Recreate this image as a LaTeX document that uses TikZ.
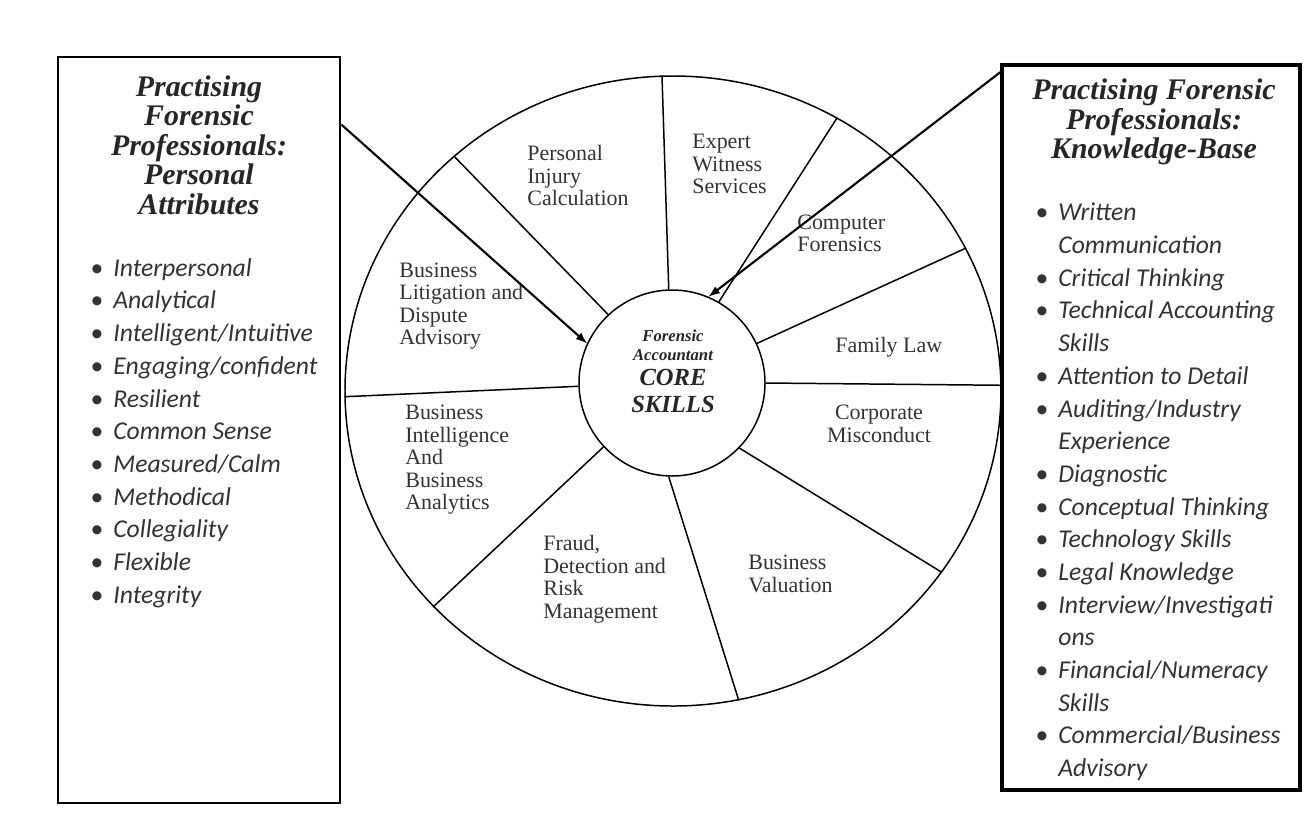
\documentclass[tikz,border=0pt]{standalone}
\usepackage{fontspec}
\setmainfont{Liberation Serif}
\newfontfamily\listfont{Carlito}
\usetikzlibrary{shapes.geometric}

\newcommand{\skillitem}{\makebox[4.6mm][l]{\textbullet}}
\newcommand{\skillcont}{\hspace*{4.6mm}}

\begin{document}
\begin{tikzpicture}[
	x=0.2mm, y=-0.2mm,
	panel/.style={rectangle, draw, line width=1.6pt, inner sep=0pt},
	heading/.style={font=\fontsize{17}{16.8}\selectfont\bfseries\itshape, align=center, text=black!85},
	skills/.style={font=\listfont\fontsize{14.6}{18.6}\selectfont\itshape, align=left, anchor=west, text=black!80, inner sep=0pt},
	area/.style={font=\fontsize{12.5}{12.8}\selectfont, align=left, anchor=west, text=black!80, inner sep=0pt},
	spoke/.style={line width=0.85pt},
	pointer/.style={line width=1.2pt, -latex},
	]
	\fill[white] (0,0) rectangle (1310,832);
	\useasboundingbox (0,0) rectangle (1310,832);
	
	% the two side boxes
	\node[panel, minimum width=56.4mm, minimum height=149.2mm] (attrib) at (199,430) {};
	\node[panel, line width=2pt, minimum width=59.6mm, minimum height=145mm] (know) at (1151,427.5) {};
	
	\node[heading] (attribhead) at (199,145) {Practising\\Forensic\\Professionals:\\Personal\\Attributes};
	\node[heading] (knowhead) at (1154,122) {Practising Forensic\\Professionals:\\Knowledge-Base};
	
	\node[skills] (attriblist) at (90,433) {\skillitem Interpersonal\\ \skillitem Analytical\\ \skillitem Intelligent/Intuitive\\ \skillitem Engaging/confident\\ \skillitem Resilient\\ \skillitem Common Sense\\ \skillitem Measured/Calm\\ \skillitem Methodical\\ \skillitem Collegiality\\ \skillitem Flexible\\ \skillitem Integrity};
	\node[skills] (knowlist) at (1035,492) {\skillitem Written\\ \skillcont Communication\\ \skillitem Critical Thinking\\ \skillitem Technical Accounting\\ \skillcont Skills\\ \skillitem Attention to Detail\\ \skillitem Auditing/Industry\\ \skillcont Experience\\ \skillitem Diagnostic\\ \skillitem Conceptual Thinking\\ \skillitem Technology Skills\\ \skillitem Legal Knowledge\\ \skillitem Interview/Investigati\\ \skillcont ons\\ \skillitem Financial/Numeracy\\ \skillcont Skills\\ \skillitem Commercial/Business\\ \skillcont Advisory};
	
	% wheel
	\node[ellipse, draw, line width=0.85pt, minimum width=131.2mm, minimum height=126mm, inner sep=0pt] (ring) at (673,391) {};
	\node[circle, draw, line width=0.85pt, minimum size=37.2mm, inner sep=0pt] (core) at (672,383) {};
	\node[font=\fontsize{9.5}{10.8}\selectfont\bfseries\itshape, align=center, text=black!85] (coresub) at (673,345) {Forensic\\Accountant};
	\node[font=\fontsize{14}{15.3}\selectfont\bfseries\itshape, align=center, text=black!85] (coretitle) at (673,391) {CORE\\SKILLS};
	
	\foreach \a/\b in {92/92,133/133,60/59,25/26,0/1,-44/-34,-92/-78,223/222,182/181}
		\draw[spoke] (core.\a) -- (ring.\b);
	
	\node[area] (injury) at (527,175.5) {Personal\\Injury\\Calculation};
	\node[area] (expert) at (692,164) {Expert\\Witness\\Services};
	\node[area] (computer) at (797,233.5) {Computer\\Forensics};
	\node[area] (family) at (835,347) {Family Law};
	\node[area, align=center, anchor=center] (corporate) at (879,424) {Corporate\\Misconduct};
	\node[area] (valuation) at (748,574) {Business\\Valuation};
	\node[area] (fraud) at (543,579) {Fraud,\\Detection and\\Risk\\Management};
	\node[area] (intelligence) at (405,460) {Business\\Intelligence\\And\\Business\\Analytics};
	\node[area] (litigation) at (399,306) {Business\\Litigation and\\Dispute\\Advisory};
	
	% pointers into the core
	\draw[pointer] (attrib.65) -- (core.155);
	\draw[pointer] (know.113) -- (core.67);
\end{tikzpicture}
\end{document}
